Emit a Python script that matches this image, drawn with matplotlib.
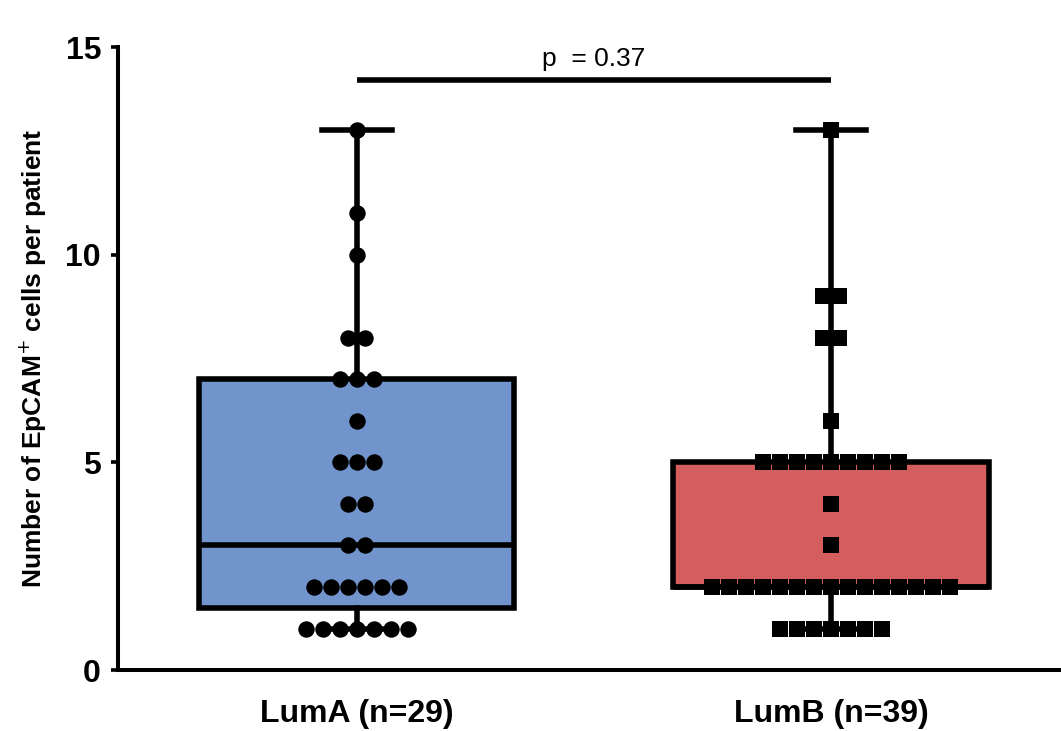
import numpy as np
import matplotlib
matplotlib.use('Agg')
import matplotlib.pyplot as plt

plt.rcParams['font.family'] = ['Liberation Sans', 'DejaVu Sans']

# 数据
groups = ['LumA (n=29)', 'LumB (n=39)']
lumA = [1]*7 + [2]*6 + [3]*2 + [4]*2 + [5]*3 + [6] + [7]*3 + [8]*2 + [10, 11, 13]
lumB = [1]*7 + [2]*15 + [3] + [4] + [5]*9 + [6] + [8]*2 + [9]*2 + [13]
p_text = 'p  = 0.37'
p_y = 14.2
box_colors = ['#7294cc', '#d45e5e']
markers = ['o', 's']
yticks = [0, 5, 10, 15]

fig = plt.figure(figsize=(10.61, 7.31), dpi=100)
ax = fig.add_axes([0.111, 0.0834, 0.889, 0.852])

# 箱线图统计量 (Prism 的四分位算法)
stats = []
for name, d in zip(groups, [lumA, lumB]):
    q1, med, q3 = np.percentile(d, [25, 50, 75], method='weibull')
    stats.append(dict(label=name, med=med, q1=q1, q3=q3, whislo=min(d), whishi=max(d), fliers=[]))

lw = 4.0
bp = ax.bxp(stats, positions=[1, 2], widths=0.665, patch_artist=True, showfliers=False,
            boxprops=dict(linewidth=lw, edgecolor='black'),
            medianprops=dict(linewidth=lw, color='black'),
            whiskerprops=dict(linewidth=lw, color='black'),
            capprops=dict(linewidth=lw, color='black'),
            capwidths=0.148, zorder=2)
for patch, c in zip(bp['boxes'], box_colors):
    patch.set_facecolor(c)

# 散点 (按数值分组横向排开)
step = 0.0357
for pos, d, m in zip([1, 2], [lumA, lumB], markers):
    vals, counts = np.unique(d, return_counts=True)
    for v, n in zip(vals, counts):
        xs = pos + (np.arange(n) - (n - 1) / 2) * step
        ax.scatter(xs, [v]*n, marker=m, s=140 if m == 'o' else 125, color='black',
                   linewidths=0, zorder=3, clip_on=False)

# p 值
ax.plot([1, 2], [p_y, p_y], color='black', linewidth=lw, solid_capstyle='butt')
ax.text(1.5, p_y + 0.22, p_text, ha='center', va='bottom', fontsize=19)

ax.set_xlim(0.496, 2.485)
ax.set_ylim(0, 15)
ax.set_yticks(yticks)
ax.set_xticks([1, 2])
ax.set_xticklabels(groups, fontsize=23, fontweight='bold')
ax.set_ylabel('Number of EpCAM$^{+}$ cells per patient', fontsize=19, fontweight='bold', labelpad=12)
for lab in ax.get_yticklabels():
    lab.set_fontsize(23)
    lab.set_fontweight('bold')
ax.tick_params(axis='y', length=5, width=2.6, pad=7)
ax.tick_params(axis='x', length=0, pad=21)
for s in ['top', 'right']:
    ax.spines[s].set_visible(False)
for s in ['left', 'bottom']:
    ax.spines[s].set_linewidth(2.9)

fig.savefig('out.png', dpi=100)
